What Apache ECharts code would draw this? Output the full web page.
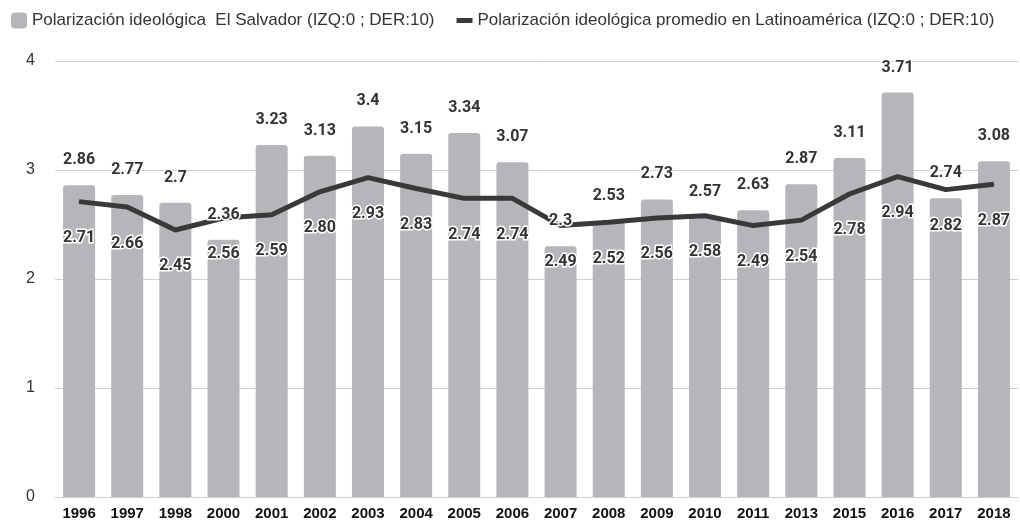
<!DOCTYPE html>
<html>
<head>
<meta charset="utf-8">
<script src="https://cdn.jsdelivr.net/npm/echarts@6/dist/echarts.min.js"></script>
<style>
  html, body { margin: 0; padding: 0; background: #fff; }
  #chart { width: 1020px; height: 525px; }
</style>
</head>
<body>
<div id="chart"></div>
<script>
// años
var years = ['1996','1997','1998','2000','2001','2002','2003','2004','2005','2006',
  '2007','2008','2009','2010','2011','2013','2015','2016','2017','2018']
// El Salvador
var salvador = [2.86, 2.77, 2.7, 2.36, 3.23, 3.13, 3.4, 3.15, 3.34, 3.07,
  2.3, 2.53, 2.73, 2.57, 2.63, 2.87, 3.11, 3.71, 2.74, 3.08]
// promedio Latinoamérica
var promedio = [2.71, 2.66, 2.45, 2.56, 2.59, 2.80, 2.93, 2.83, 2.74, 2.74,
  2.49, 2.52, 2.56, 2.58, 2.49, 2.54, 2.78, 2.94, 2.82, 2.87]
var yTicks = [0, 1, 2, 3, 4]

var nameBar = 'Polarización ideológica  El Salvador (IZQ:0 ; DER:10)'
var nameLine = 'Polarización ideológica promedio en Latinoamérica (IZQ:0 ; DER:10)'

var labelFont = {
  fontFamily: 'Roboto',
  fontSize: 16,
  fontWeight: 'bold',
  color: '#333',
  textBorderColor: '#fff',
  textBorderWidth: 3
}

var chart = echarts.init(document.getElementById('chart'))
var options = {
  backgroundColor: '#fff',
  animation: false,
  textStyle: { fontFamily: 'Liberation Sans, Arial, sans-serif' },
  legend: {
    left: 6,
    top: 7,
    itemGap: 22,
    itemWidth: 16,
    itemHeight: 16,
    textStyle: { fontSize: 17, color: '#333' },
    data: [
      { name: nameBar, icon: 'roundRect' },
      { name: nameLine, icon: 'path://M0,0 L16,0 L16,5 L0,5 Z' }
    ]
  },
  grid: {
    top: 61,
    left: 55,
    right: 2,
    bottom: 28
  },
  xAxis: {
    type: 'category',
    data: years,
    axisLine: { show: false },
    axisTick: { show: false },
    axisLabel: {
      interval: 0,
      margin: 9,
      fontSize: 15,
      fontWeight: 'bold',
      color: '#111'
    }
  },
  yAxis: {
    type: 'value',
    min: yTicks[0],
    max: yTicks[yTicks.length - 1],
    interval: 1,
    axisLabel: {
      fontSize: 16,
      color: '#333',
      margin: 20
    },
    splitLine: { lineStyle: { color: '#cfcfcf', width: 1 } }
  },
  series: [
    {
      name: nameBar,
      type: 'bar',
      barWidth: 32,
      z: 2,
      itemStyle: { color: '#b5b6b9', borderRadius: [3, 3, 0, 0] },
      data: salvador
    },
    {
      name: nameLine,
      type: 'line',
      symbol: 'circle',
      symbolSize: 1,
      showSymbol: true,
      z: 3,
      lineStyle: { color: '#393939', width: 5 },
      itemStyle: { color: '#393939' },
      label: Object.assign({
        show: true,
        position: 'bottom',
        distance: 28,
        formatter: function (p) { return p.value.toFixed(2) }
      }, labelFont),
      data: promedio
    },
    {
      // solo etiquetas de las barras, por encima de la línea
      name: 'labels',
      type: 'bar',
      barWidth: 32,
      barGap: '-100%',
      z: 4,
      silent: true,
      itemStyle: { color: 'rgba(0,0,0,0)' },
      label: Object.assign({
        show: true,
        position: 'top',
        distance: 17
      }, labelFont),
      data: salvador
    }
  ]
}
chart.setOption(options, true)
</script>
</body>
</html>
